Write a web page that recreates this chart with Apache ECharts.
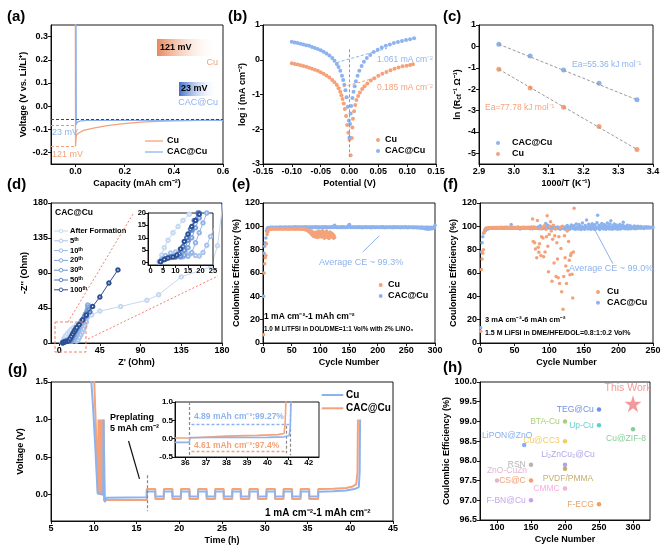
<!DOCTYPE html>
<html><head><meta charset="utf-8">
<script src="https://cdn.jsdelivr.net/npm/echarts@6/dist/echarts.min.js"></script>
<style>html,body{margin:0;padding:0;background:#fff}#c{width:666px;height:548px}</style>
</head><body><div id="c"></div>
<script>
// ================= DATA =================
// (a) nucleation voltage profiles [capacity, voltage]
const aCu = [[-0.001,0.4],[0,-0.174],[0.002,-0.135],[0.005,-0.123],[0.015,-0.115],[0.032,-0.105],[0.073,-0.095],[0.128,-0.084],[0.197,-0.076],[0.266,-0.069],[0.335,-0.066],[0.404,-0.064],[0.514,-0.062],[0.6,-0.061]];
const aCAC = [[0.002,0.4],[0.003,-0.081],[0.006,-0.07],[0.02,-0.064],[0.05,-0.062],[0.3,-0.062],[0.6,-0.062]];
// (b) Tafel plots [potential, log i]
const bCu = [[-0.100,-0.10],[-0.095,-0.12],[-0.090,-0.14],[-0.085,-0.16],[-0.080,-0.18],[-0.075,-0.20],[-0.070,-0.23],[-0.065,-0.26],[-0.060,-0.29],[-0.055,-0.32],[-0.050,-0.36],[-0.045,-0.40],[-0.040,-0.45],[-0.035,-0.51],[-0.030,-0.58],[-0.026,-0.65],[-0.022,-0.73],[-0.019,-0.82],[-0.016,-0.92],[-0.014,-1.02],[-0.012,-1.13],[-0.010,-1.26],[-0.008,-1.42],[-0.006,-1.62],[-0.004,-1.88],[-0.002,-2.10],[0.000,-2.30],[0.002,-2.75],[0.004,-2.25],[0.005,-1.95],[0.006,-1.70],[0.008,-1.48],[0.010,-1.30],[0.012,-1.16],[0.015,-1.04],[0.018,-0.94],[0.022,-0.84],[0.026,-0.76],[0.031,-0.68],[0.037,-0.60],[0.043,-0.53],[0.050,-0.46],[0.057,-0.40],[0.064,-0.35],[0.071,-0.30],[0.078,-0.26],[0.085,-0.22],[0.092,-0.19],[0.099,-0.17],[0.105,-0.15],[0.110,-0.13]];
const bCAC = [[-0.100,0.52],[-0.095,0.50],[-0.090,0.48],[-0.085,0.46],[-0.080,0.44],[-0.075,0.42],[-0.070,0.40],[-0.065,0.37],[-0.060,0.34],[-0.055,0.31],[-0.050,0.27],[-0.045,0.23],[-0.040,0.18],[-0.035,0.12],[-0.030,0.05],[-0.026,-0.03],[-0.022,-0.12],[-0.019,-0.21],[-0.016,-0.32],[-0.013,-0.46],[-0.011,-0.58],[-0.009,-0.72],[-0.007,-0.88],[-0.005,-1.08],[-0.003,-1.35],[-0.001,-1.75],[0.000,-2.24],[0.001,-1.85],[0.002,-1.55],[0.003,-1.33],[0.005,-1.10],[0.007,-0.92],[0.009,-0.76],[0.011,-0.62],[0.014,-0.46],[0.017,-0.32],[0.021,-0.18],[0.025,-0.06],[0.030,0.05],[0.036,0.14],[0.042,0.22],[0.049,0.29],[0.056,0.35],[0.063,0.40],[0.070,0.44],[0.077,0.48],[0.084,0.51],[0.091,0.54],[0.098,0.57],[0.105,0.59],[0.112,0.62]];
const bTanCAC = [[-0.022,-0.08],[0.065,0.33]];
const bTanCu = [[-0.02,-0.82],[0.045,-0.52]];
// (c) Arrhenius plot
const cInvT = [2.957,3.047,3.143,3.245,3.354];
const cCAC = [0.1,-0.45,-1.1,-1.72,-2.5];
const cCu = [-1.07,-1.95,-2.85,-3.75,-4.82];
// (d) Nyquist plots [Z', -Z'']
const dNames = ['After Formation','5ᵗʰ','10ᵗʰ','20ᵗʰ','30ᵗʰ','50ᵗʰ','100ᵗʰ'];
const dAF = [[3.5,0.3],[4.5,3],[5.5,6],[7,9],[9,12],[11,14.5],[13,17],[15.5,19.5],[19,23],[24,28],[30,33],[36,36],[45,41],[68,47],[97,55],[110,62],[135,85],[168,98],[175,125],[181,180]];
const d5 = [[3.5,0.3],[4.5,1.5],[6,2.8],[8,3.8],[10,4.3],[12,4.5],[14,4.2],[16,3.5],[18,2.8],[19.5,2.6],[21,4],[22.5,7],[24,10.5],[25.5,14],[27,18],[28.5,22],[30,27],[31,33],[32,40],[32.5,46]];
const d10 = [[3.8,0.3],[5,1.2],[7,2],[9,2.4],[11,2.5],[13,2.3],[15,2.5],[16.5,4],[18,8],[19.5,12],[21,16],[22.5,20],[25,25],[28,32],[30,38],[32,44],[33,48],[31.5,49]];
const d20 = [[4,0.3],[5.5,1.2],[7.5,2],[10,2.3],[12,2.2],[13.5,3],[15,6],[16.5,10],[18,14],[19.5,18],[21,21],[24,26],[27,32],[29,37],[31,42],[32,46]];
const d30 = [[4,0.5],[6,1.4],[8,2],[10,2.2],[12,2.6],[13.5,5],[15,9],[16.5,13],[18,17],[19.5,20],[22,24],[25,29],[28,34],[30,38],[33,43]];
const d50 = [[4.2,0.4],[6,1.5],[8,2.2],[10,2.4],[11.5,3.5],[13,6.5],[14.5,10],[16,13.5],[17.5,17],[19,20],[22,24],[26,30],[30,35],[34,40]];
const d100 = [[4,0.3],[5.5,1.2],[7,1.8],[9,2.2],[10.5,3],[12,5.5],[13.5,8.5],[15,11.5],[16.5,14.5],[18,17],[19.5,19.5],[22,23.5],[26,29.5],[30,36],[37,47],[45,59],[55,77],[65,94]];
// (e) CE, 1 mA cm-2 / 1 mAh cm-2 (cycle = index+1)
const eCAC = [40,77,83,86,90,96,98,98.5,98.8,99.0,98.7,99.1,98.9,99.2,98.8,99.0,99.3,98.9,99.1,99.0,
98.8,99.2,99.0,98.9,99.3,99.1,98.8,99.0,99.2,99.4,98.9,99.1,99.0,99.3,98.8,99.2,99.0,99.1,99.4,98.9,
99.1,99.3,99.0,98.9,99.2,99.4,99.0,99.1,98.8,99.3,99.2,99.0,99.5,99.1,98.9,99.2,99.6,99.0,99.3,99.1,
99.2,98.9,99.4,99.1,99.0,99.3,99.5,99.1,98.9,99.2,99.4,99.0,99.3,99.1,99.6,99.2,98.9,99.3,99.1,99.4,
99.0,99.3,99.2,98.8,99.4,99.1,99.5,99.0,99.3,99.2,98.9,99.6,99.1,99.3,99.0,99.4,99.2,98.9,99.5,99.1,
99.3,99.0,99.4,99.2,98.9,99.5,99.1,99.3,99.6,99.0,99.2,99.4,98.9,99.3,99.1,99.5,99.0,99.3,99.2,99.6,
99.1,99.4,99.0,100.3,101.0,99.5,99.2,99.0,99.4,99.1,99.3,98.9,99.5,99.2,99.0,99.4,99.1,99.3,99.6,99.0,
99.2,99.4,99.1,98.9,99.3,99.5,99.0,99.2,100.2,101.3,101.6,99.4,99.1,99.3,99.0,99.5,99.2,98.9,99.4,99.1,
99.3,99.0,99.5,99.2,99.4,98.9,99.1,99.6,99.3,99.0,99.4,99.2,98.8,99.5,99.1,99.3,99.0,99.4,99.2,99.6,
99.1,98.9,99.3,99.5,99.0,99.2,99.4,99.1,98.8,99.3,99.6,99.0,99.2,99.4,99.1,98.9,99.5,99.2,99.3,99.0,
99.4,99.1,99.3,98.9,99.5,99.2,99.0,99.4,99.6,99.1,99.3,98.8,99.2,99.5,99.0,99.3,99.1,99.4,98.9,99.2,
99.5,99.0,99.3,99.1,99.4,98.8,99.2,99.6,99.0,99.3,99.1,99.4,98.9,99.2,99.5,99.0,99.3,99.1,99.4,98.8,
99.2,99.5,99.0,99.3,99.1,99.4,98.9,99.2,99.6,99.0,99.3,99.1,98.8,99.4,99.2,99.5,99.0,99.3,98.9,99.1,
99.4,99.2,98.8,99.5,99.0,99.3,99.1,98.7,99.4,99.2,99.0,98.6,99.3,99.1,98.5,99.4,99.0,98.3,99.2,98.6,
98.2,99.3,98.0,99.0,97.8,99.4,98.4,97.6,99.1,98.0,99.3,97.8,98.6,99.2,97.9,98.5,99.0,98.2,99.4,101.0];
const eCu = [7,60,68,73,75,85,93,95,96.5,97.2,97.5,97.8,97.6,97.9,98.0,97.7,97.9,98.1,97.8,98.0,
97.9,98.1,97.7,98.0,98.2,97.8,98.0,97.9,98.1,97.7,98.0,98.2,97.9,97.8,98.1,98.0,97.7,98.2,97.9,98.0,
98.1,97.8,98.0,97.9,98.2,97.7,98.0,98.1,97.8,97.9,98.2,98.0,97.7,98.1,97.9,98.0,97.8,98.2,97.9,98.0,
97.8,98.1,97.9,98.0,97.7,98.1,97.9,97.6,98.0,97.8,97.5,97.9,97.2,97.6,96.8,97.4,96.5,97.0,96.0,95.5,
96.5,94.5,95.8,93.5,96.0,92.5,95.0,91.5,94.0,93.0,90.8,95.2,92.0,94.5,90.5,93.5,96.0,91.0,94.2,92.5,
95.5,90.8,93.8,96.2,91.5,94.0,89.8,95.0,92.2,93.5,96.0,90.5,94.5,91.8,89.5,93.0,95.2,90.8,92.5,94.0,
91.0,93.2,89.8,92.0,90.5];
// (f) CE, 3 mA cm-2 / 6 mAh cm-2 (cycle = index+1)
const fCAC = [13,78,86,91,94,95,96,96.5,97,97.5,97.8,98,98.2,98.5,98.3,98.6,98.4,98.8,98.5,98.7,
98.9,98.4,98.7,99.0,98.6,98.8,99.1,98.5,98.9,98.7,99.2,98.6,98.9,98.4,99.0,98.8,99.3,98.5,98.7,99.0,
98.6,99.1,98.8,98.4,101.5,98.9,98.6,99.2,98.3,98.8,99.0,98.5,98.9,98.7,99.4,98.2,98.8,97.8,99.1,98.6,
98.9,98.3,99.2,98.7,98.5,99.0,98.4,98.9,98.7,99.3,98.5,98.8,98.2,99.1,98.6,97.9,98.9,99.4,98.4,98.7,
99.0,98.3,98.8,99.5,98.2,98.9,100.5,98.6,99.1,98.0,98.8,99.4,98.3,98.7,102.5,99.0,98.4,101.0,98.8,99.2,
98.5,98.9,98.1,99.3,98.6,100.2,98.4,98.9,97.8,99.1,98.6,99.5,98.2,98.8,99.0,97.6,99.2,98.7,98.4,99.6,
98.3,98.9,97.5,99.4,98.6,100.8,98.1,99.0,97.2,99.5,98.7,101.2,98.4,99.8,97.9,100.5,98.6,97.4,102.0,98.9,
99.5,97.8,101.5,98.5,100.2,97.2,99.6,102.8,98.3,99.1,97.5,100.8,98.9,105.5,99.4,97.8,101.8,98.6,100.5,97.4,
99.8,102.2,98.1,100.6,97.6,101.4,99.2,98.0,103.0,109.5,98.7,101.0,97.3,100.2,98.9,102.5,99.5,97.7,101.6,98.4,
100.8,97.5,99.9,102.8,98.6,100.4,97.8,101.9,104.8,99.2,97.4,100.6,98.8,102.0,97.9,99.6,101.2,98.3,97.6,100.3,
98.9,101.5,97.7,99.8,98.5,100.9,103.5,98.2,100.1,97.9,99.6,98.4,101.0,97.8,99.3,98.6,100.4,98.0,99.1,98.7,
99.4,98.1,100.2,98.8,97.9,99.7,98.5,100.0,98.3,99.2,98.7,99.9,98.4,99.1,98.8,99.5,98.2,99.3,98.9,99.6,
98.5,99.2,98.8,99.4,98.6,99.0,98.7,99.3,98.9,99.1];
const fCu = [10,63,72,77,80,95,97,98,98.5,98.2,
98.6,98.4,98.8,98.3,98.7,98.9,98.5,98.6,99.0,98.4,
98.7,98.9,98.5,98.8,98.6,99.1,98.4,98.7,98.9,98.6,
98.8,98.5,99.0,98.7,98.4,98.9,98.6,98.8,99.2,98.5,
98.7,98.9,98.4,98.8,98.6,99.0,98.5,98.7,99.1,98.6,
98.8,98.4,98.9,98.7,98.5,99.0,98.6,98.8,98.3,98.9,
98.7,98.5,99.1,98.6,98.9,98.4,98.8,99.0,98.6,98.7,
98.5,99.0,98.0,99.5,98.8,106.3,87,99,86,80.6,
98.5,73,105,82,77.7,85,98,75,91,99,
90,74,100.5,78,97.5,91,109,83,61,93,
100,104,96,53,89,101,68.6,92,98,57,
86,72,56,91,51,99,81,44,100,29,
57,92,73,66,51,96,62,87,71,58.6,
75,77,59,38.6,78,115.5];
// (g) Voltage-time profiles [time h, voltage V]
const gCu = [[9.6,1.7],[9.9,1.2],[10.15,0.7],[10.35,0.25],[10.45,0.02],[11.1,0.0],[11.15,1.0],[11.25,1.0],[11.3,-0.1],[11.5,-0.04],[16.2,-0.035],
[16.2,0.044],[17.2,0.044],[17.2,-0.023],[18.2,-0.023],[18.2,0.044],[19.2,0.044],[19.2,-0.023],[20.2,-0.023],[20.2,0.044],[21.2,0.044],[21.2,-0.023],[22.2,-0.023],[22.2,0.044],[23.2,0.044],[23.2,-0.023],[24.2,-0.023],[24.2,0.044],[25.2,0.044],[25.2,-0.023],[26.2,-0.023],[26.2,0.044],[27.2,0.044],[27.2,-0.023],[28.2,-0.023],[28.2,0.044],[29.2,0.044],[29.2,-0.023],[30.2,-0.023],[30.2,0.044],[31.2,0.044],[31.2,-0.023],[32.2,-0.023],[32.2,0.044],[33.2,0.044],[33.2,-0.023],[34.2,-0.023],[34.2,0.044],[35.2,0.044],[35.2,-0.023],[36.25,-0.023],
[36.25,0.04],[38,0.045],[39.5,0.055],[40.5,0.075],[41.0,0.1],[41.1,0.3],[41.15,1.0]];
const gCAC = [[10.0,1.7],[10.2,1.05],[10.4,0.4],[10.5,0.02],[10.55,1.0],[10.6,0.0],[10.65,1.0],[10.7,0.0],[10.75,1.0],[10.8,0.0],[10.85,1.0],[10.9,0.0],[10.95,1.0],[11.0,0.0],[11.05,1.0],[11.1,0.0],[11.15,1.0],[11.2,-0.08],[11.5,-0.07],[16.2,-0.07],
[16.2,0.075],[17.2,0.075],[17.2,-0.057],[18.2,-0.057],[18.2,0.075],[19.2,0.075],[19.2,-0.057],[20.2,-0.057],[20.2,0.075],[21.2,0.075],[21.2,-0.057],[22.2,-0.057],[22.2,0.075],[23.2,0.075],[23.2,-0.057],[24.2,-0.057],[24.2,0.075],[25.2,0.075],[25.2,-0.057],[26.2,-0.057],[26.2,0.075],[27.2,0.075],[27.2,-0.057],[28.2,-0.057],[28.2,0.075],[29.2,0.075],[29.2,-0.057],[30.2,-0.057],[30.2,0.075],[31.2,0.075],[31.2,-0.057],[32.2,-0.057],[32.2,0.075],[33.2,0.075],[33.2,-0.057],[34.2,-0.057],[34.2,0.075],[35.2,0.075],[35.2,-0.057],[36.25,-0.057],
[36.25,0.075],[38,0.08],[39.5,0.09],[40.3,0.11],[40.7,0.14],[40.85,0.3],[40.9,1.0]];
const giCu = [[35.5,-0.1],[36.2,-0.1],[36.22,0.03],[38,0.03],[40,0.035],[40.8,0.05],[41.05,0.08],[41.1,0.3],[41.15,1.1]];
const giCAC = [[35.5,0.02],[36.2,0.02],[36.22,0.06],[38,0.07],[39.5,0.09],[40.5,0.11],[40.8,0.14],[40.85,0.4],[40.9,1.1]];
// (h) comparison of reported CE
const hNames = ['TEG@Cu','BTA-Cu','Up-Cu','Cu@ZIF-8','LiPON@ZnO','Cu@CC3','RSN','Li₂ZnCu₃@Cu','PVDF/PMMA','ZnO-CuZn','CS@C','CMMC','F-BN@Cu','F-ECG'];
const hCycles = [250,200,250,300,140,200,150,200,200,100,150,200,150,250];
const hCE = [99.3,99.0,98.9,98.8,98.4,98.5,97.9,97.9,97.8,97.5,97.5,97.3,97.0,96.9];
const hThisWork = [300,99.45];
// tick values
const aXT=[0,0.2,0.4,0.6], aYT=[-0.2,-0.1,0,0.1,0.2,0.3];
const bXT=[-0.15,-0.1,-0.05,0,0.05,0.1,0.15], bYT=[-3,-2,-1,0,1];
const cXT=[2.9,3.0,3.1,3.2,3.3,3.4], cYT=[-5,-4,-3,-2,-1,0,1];
const dXT=[0,45,90,135,180], dYT=[0,45,90,135,180];
const diXT=[0,5,10,15,20,25], diYT=[0,5,10,15,20];
const eXT=[0,50,100,150,200,250,300], eYT=[0,20,40,60,80,100,120];
const fXT=[0,50,100,150,200,250], fYT=[0,20,40,60,80,100,120];
const gXT=[5,10,15,20,25,30,35,40,45], gYT=[0,0.5,1.0,1.5];
const giXT=[36,37,38,39,40,41,42], giYT=[-0.5,0,0.5,1.0];
const hXT=[100,150,200,250,300], hYT=[96.5,97,97.5,98,98.5,99,99.5,100];

// ================= STYLE =================
const F = 'Liberation Sans, Arial, Helvetica, sans-serif';
const OR = '#F4A27A', BL = '#8DB3EE';
const dColors = ['#c5d8f2','#a9c4ec','#94b4e6','#7ea3de','#6a92d4','#5078c0','#2c4f94'];
const hColors = ['#4a74d9','#93c453','#3fc1c0','#6cc07a','#6a9be8','#f2be3c','#a3a3a3','#9b8de0','#b59a48','#d9a3c9','#f3844c','#f59ad0','#b58ee6','#e58a3c'];
const hLab = [['left'],['left'],['left'],['bottom',[-7,0]],['top',[-17,0]],['left'],['left'],['top',[3,0]],['bottom',[3,0]],['top',[10,0]],['left'],['left'],['left'],['left']];

function axis(gi, min, max, ticks, dec, name, gap, o) {
  o = o || {};
  return {
    type:'value', gridIndex:gi, min:min, max:max, z:o.z||0,
    name:name||'', nameLocation:'middle', nameGap:gap||0,
    nameTextStyle:{fontFamily:F, fontSize:9, fontWeight:'bold', color:'#000', rich:o.rich},
    axisLine:{show:true, onZero:false, lineStyle:{color:'#000', width:0.9}},
    axisTick:{show:true, length:3, customValues:ticks, lineStyle:{color:'#000', width:0.9}},
    axisLabel:{show:true, customValues:ticks, fontFamily:F, fontSize:o.fs||9, fontWeight:'bold', color:'#000', margin:o.m||3,
      formatter:function(v){return Number(v).toFixed(dec);}},
    splitLine:{show:false}
  };
}
const grids = [
 {left:51, top:25, width:172, height:139},
 {left:263, top:25, width:173, height:139},
 {left:479, top:25, width:174, height:139},
 {left:51, top:203, width:171, height:140},
 {left:148, top:213, width:65, height:52, z:5, backgroundColor:'#fff'},
 {left:263, top:203, width:172, height:140},
 {left:480, top:203, width:173, height:140},
 {left:51, top:382, width:342, height:139},
 {left:175, top:402, width:144, height:55, z:5, backgroundColor:'#fff'},
 {left:480, top:382, width:170, height:138}
].map(g=>Object.assign({show:true, borderColor:'#000', borderWidth:0.9}, g));

const subRich = {s:{fontFamily:F, fontSize:6.5, fontWeight:'bold', verticalAlign:'bottom', padding:[4,0,0,0]}};
const xAxes = [
 axis(0,-0.1,0.6,aXT,1,'Capacity (mAh cm⁻²)',15),
 axis(1,-0.15,0.15,bXT,2,'Potential (V)',15),
 axis(2,2.9,3.4,cXT,1,'1000/T (K⁻¹)',15),
 axis(3,-9,180,dXT,0,"Z' (Ohm)",15),
 axis(4,-1,25,diXT,0,'',0,{fs:7.5,z:6,m:2}),
 axis(5,0,300,eXT,0,'Cycle Number',15),
 axis(6,0,250,fXT,0,'Cycle Number',15),
 axis(7,5,45,gXT,0,'Time (h)',15),
 axis(8,35.5,42.5,giXT,0,'',0,{fs:8,z:6,m:2}),
 axis(9,75,325,hXT,0,'Cycle Number',15)
];
const yAxes = [
 axis(0,-0.25,0.35,aYT,1,'Voltage (V vs. Li/Li⁺)',23),
 axis(1,-3,1,bYT,0,'log i (mA cm⁻²)',16),
 axis(2,-5.5,1,cYT,0,'ln (R{s|ct}⁻¹ Ω⁻¹)',16,{rich:subRich}),
 axis(3,0,180,dYT,0,"-Z'' (Ohm)",19),
 axis(4,-1,20,diYT,0,'',0,{fs:7.5,z:6,m:2}),
 axis(5,0,120,eYT,0,'Coulombic Efficiency (%)',22),
 axis(6,0,120,fYT,0,'Coulombic Efficiency (%)',22),
 axis(7,-0.35,1.5,gYT,1,'Voltage (V)',21),
 axis(8,-0.5,1.0,giYT,1,'',0,{fs:8,z:6,m:2}),
 axis(9,96.5,100,hYT,1,'Coulombic Efficiency (%)',27)
];

function S(type, gi, data, o){ return Object.assign({type:type, xAxisIndex:gi, yAxisIndex:gi, data:data, animation:false, silent:true}, o); }
function L(gi, data, color, width, o){ return S('line', gi, data, Object.assign({showSymbol:false, symbol:'none', lineStyle:{color:color, width:width}, itemStyle:{color:color}}, o)); }
function P(gi, data, color, size, o){ return S('scatter', gi, data, Object.assign({symbolSize:size, itemStyle:{color:color, opacity:1}}, o)); }
function ML(pairs){ return {silent:true, animation:false, symbol:['none','none'], label:{show:false}, emphasis:{disabled:true},
  data:pairs.map(p=>[{coord:p[0], lineStyle:p[2]}, {coord:p[1]}])}; }
function ARROW(from,to,color,w){ return {silent:true, animation:false, symbol:['none','arrow'], symbolSize:[0,6], label:{show:false}, emphasis:{disabled:true},
  data:[[{coord:from, lineStyle:{color:color, width:w, type:'solid'}}, {coord:to}]]}; }
const dash = (c,w)=>({color:c, width:w||1, type:[3,2]});

const cycles = arr => arr.map((v,i)=>[i+1, v]);
const series = [];
// (a)
series.push(L(0, aCu, OR, 1.3));
series.push(L(0, aCAC, BL, 1.3, {markLine: ML([
  [[-0.1,-0.055],[0.6,-0.055],dash('#444',1)],
  [[-0.1,-0.081],[0,-0.081],dash(BL,1)],
  [[-0.1,-0.174],[0,-0.174],dash(OR,1)]
])}));
// (b)
series.push(P(1, bCu, OR, 4, {markLine: ML([[[0,0.3],[0,-2.8],dash('#999',1)],[bTanCu[0],bTanCu[1],dash(OR,1)]])}));
series.push(P(1, bCAC, BL, 4, {markLine: ML([[bTanCAC[0],bTanCAC[1],dash(BL,1)]])}));
// (c)
const cC = cInvT.map((t,i)=>[t,cCAC[i]]), cU = cInvT.map((t,i)=>[t,cCu[i]]);
series.push(P(2, cC, BL, 5, {markLine: ML([[cC[0],cC[4],dash('#999',1)]])}));
series.push(P(2, cU, OR, 5, {markLine: ML([[cU[0],cU[4],dash('#999',1)]])}));
// (d) main + inset
const dSets = [dAF,d5,d10,d20,d30,d50,d100];
dSets.forEach((ds,i)=>{
  series.push(L(3, ds, dColors[i], 1, {showSymbol:true, symbol:'emptyCircle', symbolSize:3.5, z:2+i*0.01}));
});
dSets.forEach((ds,i)=>{
  series.push(L(4, ds, dColors[i], 1, {showSymbol:true, symbol:'emptyCircle', symbolSize:3.5, z:6, clip:true}));
});
// (e)
series.push(P(5, cycles(eCAC), BL, 3.5, {markLine: ARROW([174,78],[203,92],BL,1)}));
series.push(P(5, cycles(eCu), OR, 3.5));
// (f)
series.push(P(6, cycles(fCAC), BL, 3.5, {markLine: ARROW([192,68],[165,98],BL,1)}));
series.push(P(6, cycles(fCu), OR, 3.5));
// (g)
series.push(L(7, gCAC, OR, 2, {markLine: ML([[[16.2,0.26],[16.2,-0.22],dash('#888',1.2)]])}));
series.push(L(7, gCu, BL, 2, {markLine: ARROW([14.07,0.715],[15.35,0.21],'#111',1.2)}));
series.push(L(8, giCAC, OR, 1.6, {z:6, markLine: ML([
  [[36.2,1.0],[36.2,-0.5],dash('#888',1.2)],
  [[41.1,0.95],[41.1,-0.45],dash('#888',1.2)],
  [[40.9,0.35],[40.9,-0.4],dash('#888',1.2)],
  [[36.3,0.38],[41.05,0.38],dash(BL,1.4)],
  [[36.3,-0.345],[40.85,-0.345],dash(OR,1.4)]
])}));
series.push(L(8, giCu, BL, 1.6, {z:6}));
// (h)
series.push(S('scatter', 9, hNames.map((n,i)=>({name:n, value:[hCycles[i],hCE[i]],
   itemStyle:{color:hColors[i]},
   label:{show:true, formatter:n, position:hLab[i][0], offset:hLab[i][1]||[0,0], distance:3, color:hColors[i], fontFamily:F, fontSize:8.5}})),
   {symbolSize:4.5}));
series.push(S('scatter', 9, [{name:'This Work', value:hThisWork}], {symbol:'path://M50,0 L61,35 L98,35 L68,57 L79,91 L50,70 L21,91 L32,57 L2,35 L39,35 Z', symbolSize:17,
   itemStyle:{color:'#f07f7f'}, label:{show:true, formatter:'This Work', position:'top', distance:2, offset:[-5,0], color:'#f07f7f', fontFamily:F, fontSize:10.5}}));

// ================= ANNOTATIONS =================
const GR = [];
function txt(x,y,t,o){ o=o||{}; GR.push({type:'text', x:x, y:y, z:100, silent:true,
  style:{text:t, fill:o.c||'#000', fontFamily:F, fontSize:o.fs||9, fontWeight:o.w||'bold', align:o.a||'left', verticalAlign:'middle'}}); }
function ln(x1,y1,x2,y2,c,w,d){ GR.push({type:'line', z:100, silent:true, shape:{x1:x1,y1:y1,x2:x2,y2:y2}, style:{stroke:c, lineWidth:w||1, lineDash:d||null}}); }
function dot(x,y,r,c,hollow){ GR.push({type:'circle', z:101, silent:true, shape:{cx:x,cy:y,r:r}, style: hollow?{fill:'#fff',stroke:c,lineWidth:0.9}:{fill:c}}); }
function grad(x,y,w,h,c){ GR.push({type:'rect', z:99, silent:true, shape:{x:x,y:y,width:w,height:h},
  style:{fill:new echarts.graphic.LinearGradient(0,0,1,0,[{offset:0,color:c},{offset:1,color:'rgba(255,255,255,0)'}])}}); }
// panel labels
[['(a)',7,17],['(b)',228,17],['(c)',443,17],['(d)',7,185],['(e)',232,185],['(f)',443,185],['(g)',8,370],['(h)',443,368]]
  .forEach(p=>txt(p[1],p[2],p[0],{fs:15}));
// (a)
grad(157,39,61,17,'#E8875A'); txt(160,47.5,'121 mV',{fs:9});
txt(218,63,'Cu',{c:OR,a:'right',fs:9,w:'normal'});
grad(179,82,39,14,'#3F6FCB'); txt(181,89,'23 mV',{fs:9});
txt(218,103,'CAC@Cu',{c:BL,a:'right',fs:9,w:'normal'});
txt(52,133,'23 mV',{c:BL,fs:9,w:'normal'});
txt(52,155,'121 mV',{c:OR,fs:9,w:'normal'});
ln(145,141,163,141,OR,1.3); txt(167,141,'Cu');
ln(145,152,163,152,BL,1.3); txt(167,152,'CAC@Cu');
// (b)
txt(377,60,'1.061 mA cm⁻²',{c:BL,fs:8.5,w:'normal'});
txt(377,88,'0.185 mA cm⁻²',{c:OR,fs:8.5,w:'normal'});
dot(378,140,2,OR); txt(385,140,'Cu');
dot(378,151,2,BL); txt(385,151,'CAC@Cu');
// (c)
txt(572,65,'Ea=55.36 kJ mol⁻¹',{c:BL,fs:8.5,w:'normal'});
txt(485,108,'Ea=77.78 kJ mol⁻¹',{c:OR,fs:8.5,w:'normal'});
dot(498,143,2,BL); txt(512,143,'CAC@Cu');
dot(498,154,2,OR); txt(512,154,'Cu');
// (d)
txt(55,213,'CAC@Cu',{fs:8.5});
dNames.forEach((n,i)=>{ const y=231+i*9.8; ln(54,y,68,y,dColors[i],1); dot(61,y,1.8,dColors[i],true); txt(70,y,n,{fs:7.5}); });
GR.push({type:'rect', z:99, silent:true, shape:{x:55,y:322,width:31,height:30}, style:{fill:'none', stroke:'#f08070', lineWidth:1, lineDash:[3,2]}});
ln(68,322,133,214,'#f08070',1,[2,2]);
ln(88,339,218,276,'#f08070',1,[2,2]);
// (e)
txt(319,263,'Average CE ~ 99.3%',{c:BL,fs:9,w:'normal'});
dot(380.7,285,2,OR); txt(388,285,'Cu');
dot(380.7,296,2,BL); txt(388,296,'CAC@Cu');
txt(264,316.7,'1 mA cm⁻²-1 mAh cm⁻²',{fs:8.5});
txt(264,329,'1.0 M LiTFSI in DOL/DME=1:1 Vol% with 2% LiNO₃',{fs:6.3});
// (f)
txt(569,269,'Average CE ~ 99.0%',{c:BL,fs:9,w:'normal'});
dot(598,292,2,OR); txt(607,292,'Cu');
dot(598,302.7,2,BL); txt(607,302.7,'CAC@Cu');
txt(485,320,'3 mA cm⁻²-6 mAh cm⁻²',{fs:7.5});
txt(485,332.7,'1.5 M LiFSI in DME/HFE/DOL=0.8:1:0.2 Vol%',{fs:7});
// (g)
txt(110,417.7,'Preplating',{fs:9});
txt(110,429,'5 mAh cm⁻²',{fs:9});
txt(265,513,'1 mA cm⁻²-1 mAh cm⁻²',{fs:10});
ln(321.7,395,343.3,395,BL,2); txt(346,395,'Cu',{fs:10});
ln(321.7,408.3,343.3,408.3,OR,2); txt(346,408.3,'CAC@Cu',{fs:10});
txt(194,416.7,'4.89 mAh cm⁻²:99.27%',{c:BL,fs:8.5});
txt(194,445.7,'4.61 mAh cm⁻²:97.4%',{c:OR,fs:8.5});

const chart = echarts.init(document.getElementById('c'));
chart.setOption({
  animation:false, backgroundColor:'#fff',
  textStyle:{fontFamily:F},
  grid:grids, xAxis:xAxes, yAxis:yAxes, series:series, graphic:GR
});
</script></body></html>
